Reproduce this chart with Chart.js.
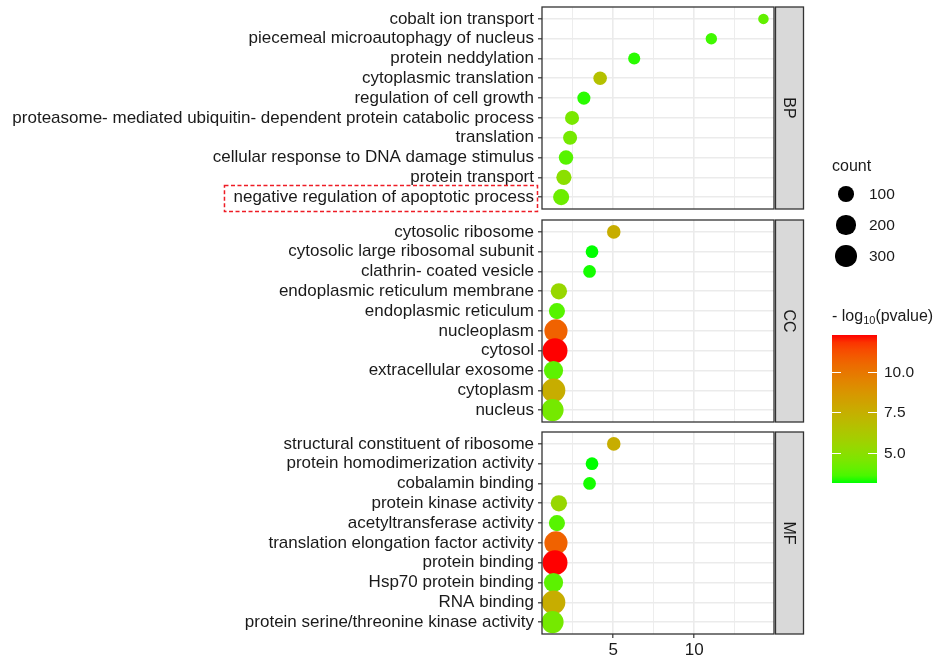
<!DOCTYPE html>
<html>
<head>
<meta charset="utf-8">
<script src="https://cdn.jsdelivr.net/npm/chart.js@4.4.1/dist/chart.umd.min.js"></script>
<style>
  body { margin: 0; background: #fff; }
  #page { position: relative; width: 940px; height: 658px; overflow: hidden; font-family: "Liberation Sans", Arial, sans-serif; color: #1a1a1a; }
  canvas { position: absolute; left: 0; }
  .lg { position: absolute; white-space: nowrap; line-height: 1; }
  .dot { position: absolute; background: #000; border-radius: 50%; }
  .tick { position: absolute; height: 1px; background: #fff; }
</style>
</head>
<body>
<div id="page">
  <canvas id="bp" width="940" height="215" style="top:0px"></canvas>
  <canvas id="cc" width="940" height="215" style="top:213px"></canvas>
  <canvas id="mf" width="940" height="233" style="top:425px"></canvas>
  <div id="legend"></div>
</div>
<script>
// ---- data ----
const bpTerms = ["cobalt ion transport", "piecemeal microautophagy of nucleus", "protein neddylation",
  "cytoplasmic translation", "regulation of cell growth",
  "proteasome- mediated ubiquitin- dependent protein catabolic process", "translation",
  "cellular response to DNA damage stimulus", "protein transport", "negative regulation of apoptotic process"];
const bpRatio = [14.26, 11.05, 6.3, 4.2, 3.2, 2.47, 2.35, 2.1, 1.97, 1.8];
const bpCount = [60, 62, 66, 82, 76, 90, 90, 98, 112, 135];
const bpLogP = [4.0, 3.5, 3.3, 6.6, 3.3, 4.5, 4.4, 3.8, 5.0, 4.2];

const ccTerms = ["cytosolic ribosome", "cytosolic large ribosomal subunit", "clathrin- coated vesicle",
  "endoplasmic reticulum membrane", "endoplasmic reticulum", "nucleoplasm", "cytosol",
  "extracellular exosome", "cytoplasm", "nucleus"];
const ccRatio = [5.04, 3.7, 3.55, 1.66, 1.54, 1.48, 1.42, 1.33, 1.33, 1.27];
const ccCount = [82, 72, 72, 140, 135, 440, 560, 240, 470, 380];
const ccLogP = [7.6, 3.15, 3.2, 5.4, 3.8, 10.7, 12.28, 3.9, 7.6, 4.4];

const mfTerms = ["structural constituent of ribosome", "protein homodimerization activity", "cobalamin binding",
  "protein kinase activity", "acetyltransferase activity", "translation elongation factor activity",
  "protein binding", "Hsp70 protein binding", "RNA binding", "protein serine/threonine kinase activity"];
const mfRatio = [5.04, 3.7, 3.55, 1.66, 1.54, 1.48, 1.42, 1.33, 1.33, 1.27];
const mfCount = [82, 72, 72, 140, 135, 440, 560, 240, 470, 380];
const mfLogP = [7.6, 3.15, 3.2, 5.4, 3.8, 10.7, 12.28, 3.9, 7.6, 4.4];

const xMajor = [5, 10];
const xMinor = [2.5, 7.5, 12.5];
const countBreaks = [100, 200, 300];
const logPBreaks = [5.0, 7.5, 10.0];
const strips = ["BP", "CC", "MF"];

// ---- scales (size + colour) ----
const allCount = bpCount.concat(ccCount, mfCount);
const allLogP = bpLogP.concat(ccLogP, mfLogP);
const allRatio = bpRatio.concat(ccRatio, mfRatio);
const cMin = Math.min(...allCount), cMax = Math.max(...allCount);
const pMin = Math.min(...allLogP), pMax = Math.max(...allLogP);
const rMin = Math.min(...allRatio), rMax = Math.max(...allRatio);
const xLo = rMin - 0.05 * (rMax - rMin), xHi = rMax + 0.05 * (rMax - rMin);

function radiusOf(c) {
  const t = Math.max(0, (c - cMin) / (cMax - cMin));
  return (10.5 + 14.5 * Math.sqrt(t)) / 2;
}

function toLab(rgb) {
  const lin = c => { c /= 255; return c <= 0.04045 ? c / 12.92 : Math.pow((c + 0.055) / 1.055, 2.4); };
  const R = lin(rgb[0]), G = lin(rgb[1]), B = lin(rgb[2]);
  const X = (0.4124564 * R + 0.3575761 * G + 0.1804375 * B) / 0.95047;
  const Y = 0.2126729 * R + 0.7151522 * G + 0.0721750 * B;
  const Z = (0.0193339 * R + 0.1191920 * G + 0.9503041 * B) / 1.08883;
  const f = t => t > 216 / 24389 ? Math.cbrt(t) : (24389 / 27 * t + 16) / 116;
  const fx = f(X), fy = f(Y), fz = f(Z);
  return [116 * fy - 16, 500 * (fx - fy), 200 * (fy - fz)];
}
function fromLab(lab) {
  const fy = (lab[0] + 16) / 116, fx = fy + lab[1] / 500, fz = fy - lab[2] / 200;
  const inv = t => t * t * t > 216 / 24389 ? t * t * t : (116 * t - 16) / (24389 / 27);
  const X = inv(fx) * 0.95047, Y = inv(fy), Z = inv(fz) * 1.08883;
  const R = 3.2404542 * X - 1.5371385 * Y - 0.4985314 * Z;
  const G = -0.9692660 * X + 1.8760108 * Y + 0.0415560 * Z;
  const B = 0.0556434 * X - 0.2040259 * Y + 1.0572252 * Z;
  const g = c => { c = c <= 0.0031308 ? 12.92 * c : 1.055 * Math.pow(c, 1 / 2.4) - 0.055; return Math.round(Math.min(1, Math.max(0, c)) * 255); };
  return "rgb(" + g(R) + "," + g(G) + "," + g(B) + ")";
}
const lowLab = toLab([0, 255, 0]), highLab = toLab([255, 0, 0]);
function colourOf(v) {
  const t = Math.min(1, Math.max(0, (v - pMin) / (pMax - pMin)));
  return fromLab(lowLab.map((l, i) => l + (highLab[i] - l) * t));
}

// ---- panels ----
const FONT = "'Liberation Sans', Arial, sans-serif";
const LABEL_SIZE = 17;

const panelFrame = {
  id: "panelFrame",
  afterDatasetsDraw(chart, args, opts) {
    const { ctx, chartArea: a } = chart;
    ctx.save();
    ctx.strokeStyle = "#333333";
    ctx.lineWidth = 1.3;
    ctx.strokeRect(a.left, a.top, a.right - a.left, a.bottom - a.top);
    // strip on the right
    const sx = a.right + 1.5, sw = 28;
    ctx.fillStyle = "#d9d9d9";
    ctx.fillRect(sx, a.top, sw, a.bottom - a.top);
    ctx.strokeRect(sx, a.top, sw, a.bottom - a.top);
    ctx.translate(sx + sw / 2, (a.top + a.bottom) / 2);
    ctx.rotate(Math.PI / 2);
    ctx.fillStyle = "#1a1a1a";
    ctx.font = "16px " + FONT;
    ctx.textAlign = "center";
    ctx.textBaseline = "middle";
    ctx.fillText(opts.label, 0, 1);
    ctx.restore();
    if (opts.highlight !== undefined) {
      const y = chart.scales.y.getPixelForValue(opts.highlight);
      ctx.save();
      ctx.font = LABEL_SIZE + "px " + FONT;
      const w = ctx.measureText(opts.terms[opts.highlight]).width;
      const right = a.left - 8;
      ctx.strokeStyle = "#ee1c25";
      ctx.lineWidth = 1.5;
      ctx.setLineDash([4, 2.5]);
      ctx.strokeRect(right - w - 9, y - 11.5, w + 12.5, 26);
      ctx.restore();
    }
  }
};

function makePanel(id, terms, ratio, count, logP, strip, bottom, highlight) {
  const points = terms.map((t, i) => ({ x: ratio[i], y: i, r: radiusOf(count[i]) }));
  return new Chart(document.getElementById(id), {
    type: "bubble",
    data: {
      datasets: [{
        data: points,
        backgroundColor: logP.map(colourOf),
        borderWidth: 0,
        clip: false
      }]
    },
    options: {
      responsive: false,
      animation: false,
      events: [],
      layout: { autoPadding: false, padding: { top: 7, bottom: bottom ? 0 : 6, left: 0, right: 166 } },
      plugins: {
        legend: { display: false },
        tooltip: { enabled: false },
        panelFrame: { label: strip, highlight: highlight, terms: terms }
      },
      scales: {
        x: {
          type: "linear",
          min: xLo,
          max: xHi,
          afterBuildTicks: s => { s.ticks = xMinor.concat(xMajor).sort((a, b) => a - b).map(v => ({ value: v })); },
          afterFit: s => { s.height = bottom ? 24 : 0; s.paddingLeft = 0; s.paddingRight = 0; },
          border: { display: false },
          grid: {
            color: "#ebebeb",
            lineWidth: c => xMajor.includes(c.tick.value) ? 1.6 : 0.9,
            drawTicks: bottom,
            tickLength: 4,
            tickWidth: 1.2,
            tickColor: c => xMajor.includes(c.tick.value) ? "#333333" : "rgba(0,0,0,0)"
          },
          ticks: {
            display: bottom,
            autoSkip: false,
            maxRotation: 0,
            padding: 2,
            color: "#1a1a1a",
            font: { family: FONT, size: LABEL_SIZE },
            callback: v => xMajor.includes(v) ? String(v) : ""
          }
        },
        y: {
          type: "linear",
          reverse: true,
          min: -0.6,
          max: terms.length - 0.4,
          afterBuildTicks: s => { s.ticks = terms.map((t, i) => ({ value: i })); },
          afterFit: s => { s.width = 542; s.paddingTop = 0; s.paddingBottom = 0; },
          border: { display: false },
          grid: { color: "#ebebeb", lineWidth: 1.6, tickLength: 4, tickWidth: 1.2, tickColor: "#333333" },
          ticks: {
            autoSkip: false,
            padding: 4,
            color: "#1a1a1a",
            font: { family: FONT, size: LABEL_SIZE },
            callback: v => terms[v]
          }
        }
      }
    },
    plugins: [panelFrame]
  });
}

makePanel("bp", bpTerms, bpRatio, bpCount, bpLogP, strips[0], false, bpTerms.length - 1);
makePanel("cc", ccTerms, ccRatio, ccCount, ccLogP, strips[1], false);
makePanel("mf", mfTerms, mfRatio, mfCount, mfLogP, strips[2], true);

// ---- legends ----
const lg = document.getElementById("legend");
function add(html, style, cls) {
  const d = document.createElement("div");
  d.className = cls || "lg";
  d.innerHTML = html;
  Object.assign(d.style, style);
  lg.appendChild(d);
  return d;
}
add("count", { left: "832px", top: "158px", fontSize: "16px" });
const dotY = [194, 225, 256];
countBreaks.forEach((c, i) => {
  const r = radiusOf(c) + 0.5;
  add("", { left: (846 - r) + "px", top: (dotY[i] - r) + "px", width: 2 * r + "px", height: 2 * r + "px" }, "dot");
  add(String(c), { left: "869px", top: (dotY[i] - 8) + "px", fontSize: "15.5px" });
});
add("- log<sub style='font-size:11px;vertical-align:-3px'>10</sub>(pvalue)", { left: "832px", top: "308px", fontSize: "16px" });
const barTop = 335, barH = 148, barL = 832, barW = 45;
const stops = [];
for (let i = 0; i <= 20; i++) stops.push(colourOf(pMin + (pMax - pMin) * i / 20) + " " + (i * 5) + "%");
add("", { left: barL + "px", top: barTop + "px", width: barW + "px", height: barH + "px",
  background: "linear-gradient(to top, " + stops.join(",") + ")" }, "lg");
logPBreaks.forEach(v => {
  const y = barTop + barH - (v - pMin) / (pMax - pMin) * barH;
  add("", { left: barL + "px", top: y + "px", width: "9px" }, "tick");
  add("", { left: (barL + barW - 9) + "px", top: y + "px", width: "9px" }, "tick");
  add(v.toFixed(1), { left: "884px", top: (y - 8) + "px", fontSize: "15.5px" });
});
</script>
</body>
</html>
